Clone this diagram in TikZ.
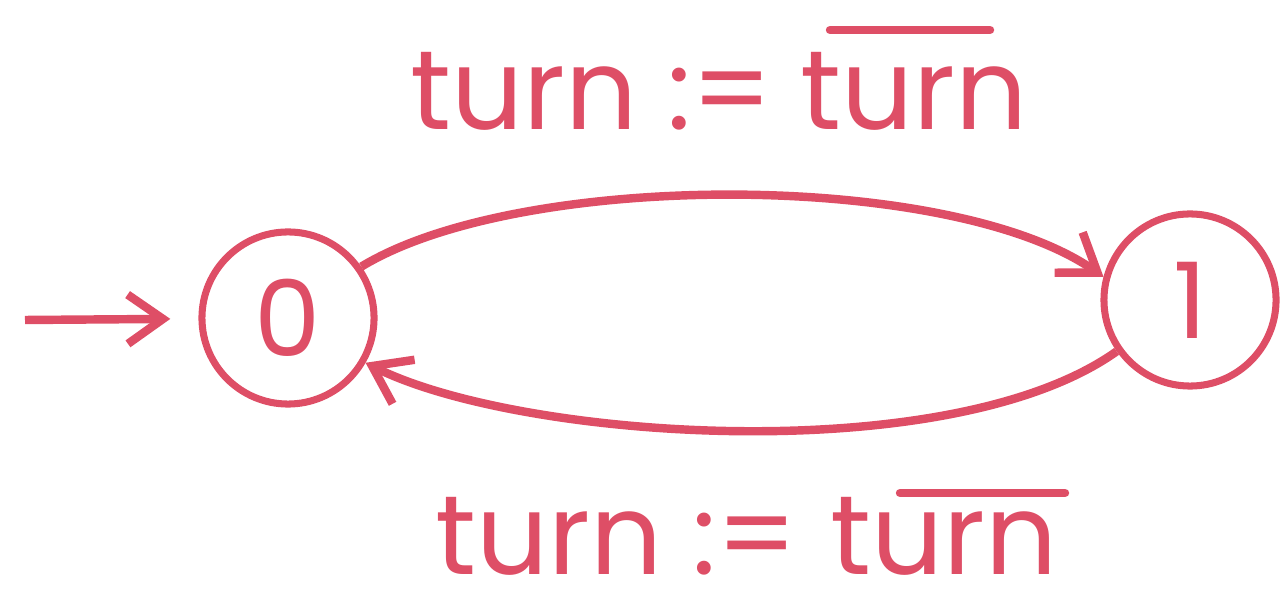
\documentclass[tikz,border=0pt]{standalone}
\usepackage{fontspec}
\setmainfont{Poppins}
\usetikzlibrary{arrows.meta}
\definecolor{ink}{RGB}{222,78,102}
\begin{document}
\begin{tikzpicture}[x=0.01cm,y=-0.01cm,
  state/.style={draw=ink,line width=2pt,circle,minimum size=1.72cm,inner sep=0pt,text=ink,font=\fontsize{30}{30}\selectfont},
  edge/.style={draw=ink,line width=2.4pt,-{Straight Barb[length=10pt,width=14pt,line width=2.4pt]}},
  bar/.style={draw=ink,line width=2.4pt,line cap=round},
  lbl/.style={text=ink,inner sep=0pt,font=\fontsize{32}{32}\selectfont}]
\useasboundingbox (0,0) rectangle (1282,610);
\node[state] (q0) at (288,318) {0};
\node[state] (q1) at (1190,300) {1};
\coordinate (init) at (25,320);
\draw[edge,shorten >=8pt] (init) -- (q0);
\draw[edge] (q0.35) .. controls (520,170) and (950,170) .. (q1.165);
\draw[edge] (q1.215) .. controls (950,470) and (520,440) .. (q0.330);
\node[lbl,anchor=base west] (t1) at (410,130) {turn :=};
\node[lbl,anchor=base west] (t2) at (800,130) {turn};
\coordinate (o1a) at (830,30);
\coordinate (o1b) at (990,30);
\draw[bar] (o1a) -- (o1b);
\node[lbl,anchor=base west] (b1) at (435,575) {turn :=};
\node[lbl,anchor=base west] (b2) at (830,575) {turn};
\coordinate (o2a) at (900,493);
\coordinate (o2b) at (1065,493);
\draw[bar] (o2a) -- (o2b);
\end{tikzpicture}
\end{document}
